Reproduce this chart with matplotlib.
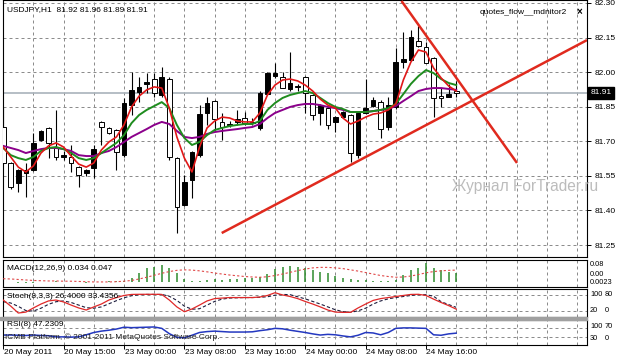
import numpy as np
import matplotlib.pyplot as plt
from matplotlib.patches import Rectangle
from matplotlib.transforms import blended_transform_factory

plt.rcParams['font.family'] = ['Liberation Sans', 'DejaVu Sans']

W, H = 623, 362
X0, STEP = 3.2, 7.55          # pixel x of bar 0, pixels per bar
PLOT_R = 587                  # right edge of the panels (px)

# ---------------- data ----------------
opens = [81.762, 81.606, 81.519, 81.562, 81.575, 81.706, 81.758, 81.671, 81.632, 81.632,
         81.588, 81.562, 81.584, 81.784, 81.758, 81.749, 81.640, 81.857, 81.914, 81.949,
         81.970, 81.901, 81.970, 81.627, 81.424, 81.532, 81.640, 81.823, 81.875, 81.784,
         81.770, 81.784, 81.801, 81.780, 81.758, 81.905, 81.983, 81.979, 81.927, 81.940,
         81.979, 81.901, 81.823, 81.844, 81.784, 81.805, 81.814, 81.640, 81.823, 81.853,
         81.870, 81.762, 81.849, 82.044, 82.053, 82.135, 82.109, 82.061, 81.896, 81.892,
         81.920]
highs = [81.849, 81.610, 81.580, 81.606, 81.736, 81.750, 81.762, 81.836, 81.660, 81.684,
         81.592, 81.580, 81.684, 81.790, 81.762, 81.753, 81.888, 82.001, 81.979, 81.996,
         81.996, 82.022, 81.980, 81.632, 81.554, 81.660, 81.857, 81.892, 81.880, 81.823,
         81.790, 81.836, 81.827, 81.800, 81.920, 82.000, 82.040, 82.001, 82.087, 81.950,
         81.983, 81.905, 81.860, 81.850, 81.810, 81.830, 81.820, 81.830, 81.970, 81.890,
         81.880, 81.892, 82.105, 82.175, 82.183, 82.200, 82.131, 82.065, 81.931, 81.950,
         81.960]
lows = [81.600, 81.495, 81.480, 81.458, 81.570, 81.700, 81.627, 81.619, 81.620, 81.567,
        81.502, 81.550, 81.541, 81.684, 81.730, 81.575, 81.630, 81.814, 81.870, 81.910,
        81.892, 81.890, 81.619, 81.302, 81.418, 81.454, 81.630, 81.771, 81.749, 81.706,
        81.760, 81.771, 81.770, 81.770, 81.749, 81.900, 81.975, 81.930, 81.920, 81.920,
        81.823, 81.792, 81.771, 81.753, 81.740, 81.800, 81.610, 81.627, 81.820, 81.850,
        81.714, 81.750, 81.840, 82.018, 82.050, 82.110, 82.040, 81.805, 81.849, 81.890,
        81.890]
closes = [81.606, 81.502, 81.575, 81.575, 81.693, 81.745, 81.693, 81.632, 81.640, 81.606,
          81.554, 81.575, 81.666, 81.762, 81.736, 81.653, 81.866, 81.923, 81.936, 81.957,
          81.910, 81.979, 81.632, 81.415, 81.523, 81.653, 81.818, 81.866, 81.797, 81.762,
          81.775, 81.797, 81.779, 81.785, 81.910, 81.996, 81.996, 81.931, 81.953, 81.935,
          81.910, 81.814, 81.857, 81.771, 81.805, 81.827, 81.649, 81.823, 81.844, 81.879,
          81.753, 81.857, 82.044, 82.057, 82.152, 82.113, 82.040, 81.888, 81.888, 81.905,
          81.910]

ma_red = [81.675, 81.632, 81.588, 81.567, 81.593, 81.649, 81.680, 81.693, 81.675, 81.636,
          81.601, 81.588, 81.606, 81.662, 81.697, 81.719, 81.771, 81.849, 81.896, 81.923,
          81.936, 81.931, 81.844, 81.719, 81.627, 81.567, 81.675, 81.758, 81.788, 81.805,
          81.801, 81.788, 81.784, 81.784, 81.823, 81.901, 81.944, 81.966, 81.970, 81.962,
          81.944, 81.918, 81.883, 81.857, 81.844, 81.801, 81.775, 81.788, 81.805, 81.818,
          81.823, 81.836, 81.862, 81.966, 82.044, 82.096, 82.087, 82.018, 81.975, 81.940,
          81.918]
ma_green = [81.671, 81.640, 81.627, 81.619, 81.632, 81.658, 81.671, 81.675, 81.666, 81.649,
            81.627, 81.619, 81.627, 81.649, 81.671, 81.693, 81.727, 81.779, 81.814, 81.836,
            81.853, 81.870, 81.844, 81.771, 81.714, 81.684, 81.697, 81.727, 81.749, 81.758,
            81.766, 81.771, 81.775, 81.775, 81.788, 81.836, 81.866, 81.888, 81.901, 81.909,
            81.918, 81.909, 81.888, 81.866, 81.849, 81.840, 81.827, 81.827, 81.827, 81.831,
            81.836, 81.844, 81.862, 81.905, 81.949, 81.983, 82.009, 81.996, 81.970, 81.953,
            81.944]
ma_purple = [81.680, 81.671, 81.662, 81.649, 81.658, 81.666, 81.671, 81.671, 81.666, 81.658,
             81.640, 81.636, 81.636, 81.649, 81.658, 81.675, 81.697, 81.719, 81.736, 81.753,
             81.771, 81.784, 81.775, 81.745, 81.719, 81.714, 81.719, 81.732, 81.740, 81.745,
             81.749, 81.753, 81.758, 81.762, 81.775, 81.801, 81.823, 81.836, 81.849, 81.857,
             81.862, 81.862, 81.857, 81.849, 81.844, 81.836, 81.827, 81.827, 81.827, 81.831,
             81.836, 81.840, 81.853, 81.875, 81.896, 81.918, 81.927, 81.931, 81.931, 81.927,
             81.923]

# trend lines: (bar index, price) end points
trend_up = ([28.94, 77.32], [81.302, 82.139])
trend_down = ([52.75, 68.05], [82.309, 81.606])

macd_hist = [0.002, -0.002, -0.004, -0.005, -0.004, -0.002, 0.000, 0.001, 0.000, -0.002,
             -0.003, -0.004, -0.003, -0.001, 0.002, 0.003, 0.004, 0.014, 0.034, 0.054,
             0.061, 0.068, 0.054, 0.034, 0.012, 0.002, 0.003, 0.006, 0.010, 0.008,
             0.010, 0.012, 0.014, 0.016, 0.020, 0.030, 0.050, 0.060, 0.064, 0.058,
             0.054, 0.047, 0.040, 0.034, 0.022, 0.014, 0.010, 0.008, 0.005, 0.004,
             0.003, 0.004, 0.007, 0.027, 0.047, 0.054, 0.075, 0.054, 0.047, 0.040,
             0.034]
macd_signal = [0.012, 0.011, 0.009, 0.007, 0.005, 0.004, 0.003, 0.003, 0.002, 0.002,
               0.001, 0.000, -0.001, -0.001, -0.001, 0.000, 0.002, 0.005, 0.011, 0.018,
               0.026, 0.034, 0.041, 0.046, 0.048, 0.047, 0.044, 0.040, 0.035, 0.031,
               0.027, 0.024, 0.021, 0.019, 0.018, 0.020, 0.025, 0.031, 0.038, 0.045,
               0.051, 0.056, 0.058, 0.058, 0.056, 0.053, 0.048, 0.043, 0.037, 0.031,
               0.025, 0.021, 0.018, 0.019, 0.023, 0.029, 0.036, 0.041, 0.044, 0.046,
               0.047]

stoch_k = [61.5, 38, 11.5, 15, 31, 46, 58, 61.5, 54, 42,
           31, 23, 35, 46, 61.5, 71, 79, 83, 83.5, 83.5,
           83.5, 83, 61.5, 35, 16.5, 27, 42, 58, 67, 69,
           71, 71, 71, 71, 73, 79, 89.6, 81, 75, 67,
           56, 46, 35, 23, 15, 14, 14, 31, 46, 60,
           67, 71, 75, 79, 83, 83.5, 79, 65, 52, 40,
           26.4]
stoch_d = [55, 50, 37, 21, 19, 30, 45, 55, 58, 52,
           42, 32, 30, 35, 47, 59, 70, 78, 82, 83,
           83, 83, 76, 60, 38, 26, 28, 42, 56, 65,
           69, 70, 71, 71, 72, 74, 80, 83, 82, 74,
           66, 56, 46, 35, 24, 17, 14, 20, 30, 46,
           58, 66, 71, 75, 79, 82, 82, 76, 55, 44,
           33.4]

rsi = [39, 39, 38, 37, 39, 37, 36, 31, 31, 30,
       31, 40, 50, 56, 60, 65, 73, 71, 72, 73,
       74, 68, 45, 29, 27, 38, 50, 54, 56, 54,
       52, 52, 52, 53, 58, 62, 68, 66, 60, 55,
       50, 44, 39, 42, 40, 35, 31, 38, 50, 48,
       40, 50, 68, 70, 70, 69, 68, 40, 38, 44,
       47.2]

price_levels = [82.30, 82.15, 82.00, 81.85, 81.70, 81.55, 81.40, 81.25]
time_idx = [0, 8, 16, 24, 32, 40, 48, 56]
time_labels = ["20 May 2011", "20 May 15:00", "23 May 00:00", "23 May 08:00",
               "23 May 16:00", "24 May 00:00", "24 May 08:00", "24 May 16:00"]
last_price = 81.91

# ---------------- helpers ----------------
def rect(x0, y0, x1, y1):
    return [x0 / W, 1 - y1 / H, (x1 - x0) / W, (y1 - y0) / H]

def ftext(x, y, s, **kw):
    kw.setdefault('fontsize', 6)
    kw.setdefault('va', 'center')
    fig.text(x / W, 1 - y / H, s, **kw)

GRID = dict(color='#8c8c8c', lw=0.72, linestyle=(0, (3, 3)), zorder=0)
XLIM = ((3 - X0) / STEP, (PLOT_R - X0) / STEP)
n = len(closes)
idx = np.arange(n)

def base_axes(box, ylim):
    ax = fig.add_axes(rect(*box))
    ax.set_xlim(*XLIM)
    ax.set_ylim(*ylim)
    for s in ax.spines.values():
        s.set_linewidth(0.8)
    ax.set_xticks([])
    ax.set_yticks([])
    for g in range(4, 80, 4):
        ax.axvline(g, **GRID)
    return ax

fig = plt.figure(figsize=(W / 100, H / 100), dpi=100)
fig.patch.set_facecolor('white')

# ---------------- main price panel ----------------
ax = base_axes((3, 0, PLOT_R, 257), (81.198, 82.313))
for lv in price_levels:
    ax.axhline(lv, **GRID)
ax.axhline(last_price, color='#a9b3bb', lw=1.2, zorder=1)

o = np.array(opens); c = np.array(closes)
ax.vlines(idx, lows, highs, color='black', lw=0.8, zorder=2)
bull = c >= o
ax.bar(idx, np.maximum(np.abs(c - o), 0.002), bottom=np.minimum(o, c), width=0.62,
       color=np.where(bull, 'black', 'white'), edgecolor='black', linewidth=0.7, zorder=3)

ax.plot(idx, ma_purple, color='#8b008b', lw=1.4, zorder=4)
ax.plot(idx, ma_green, color='#1e8c1e', lw=1.4, zorder=4)
ax.plot(idx, ma_red, color='#e01818', lw=1.2, zorder=4)
ax.plot(*trend_up, color='#e02a1e', lw=1.8, zorder=5, solid_capstyle='butt')
ax.plot(*trend_down, color='#e02a1e', lw=1.8, zorder=5, solid_capstyle='butt')

ax.yaxis.tick_right()
ax.set_yticks(price_levels)
ax.set_yticklabels([f"{v:.2f}" for v in price_levels])
ax.tick_params(axis='y', length=3, width=0.7, pad=2.5, labelsize=6)

tr = blended_transform_factory(ax.transAxes, ax.transData)
ax.text(1.006, last_price, "81.91", transform=tr, ha='left', va='center', fontsize=6,
        color='white', bbox=dict(facecolor='black', edgecolor='black', pad=1.8), zorder=6)

ftext(7, 10, "USDJPY,H1  81.92 81.96 81.89 81.91")
ftext(480, 12, "quotes_flow__mdnitor2")
ftext(577, 12, "×", fontweight='bold', fontsize=7)
ftext(452, 186, "Журнал ForTrader.ru", fontsize=11.2, color='#bcbcbc')

# ---------------- MACD ----------------
axm = base_axes((3, 260, PLOT_R, 287), (-0.0215, 0.0879))
axm.vlines(idx, 0, macd_hist, color='#2e8b2e', lw=1.1, zorder=2)
axm.plot(idx, macd_signal, color='#e04848', lw=0.8, linestyle=(0, (2, 2)), zorder=3)
ftext(7, 268, "MACD(12,26,9) 0.034 0.047")
ftext(590, 265, "0.08", fontsize=5.3)
ftext(590, 274, "0.00", fontsize=5.3)
ftext(590, 283, "0.0023", fontsize=5.3)

# ---------------- Stochastic ----------------
axs = base_axes((3, 288.5, PLOT_R, 317), (-3.8, 105.8))
for lv in (80, 20):
    axs.axhline(lv, **GRID)
axs.plot(idx, stoch_d, color='#1c1c3c', lw=0.8, linestyle=(0, (3, 2)), zorder=2)
axs.plot(idx, stoch_k, color='#e02828', lw=0.9, zorder=3)
ftext(7, 297, "Stoch(8,3,3) 26.4000 33.4356")
ftext(590, 294, "100", fontsize=5.3)
ftext(605, 294, "80", fontsize=5.3)
ftext(590, 311, "20", fontsize=5.3)
ftext(605, 311, "0", fontsize=5.3)

fig.patches.append(Rectangle((0, 1 - 320 / H), PLOT_R / W, 3 / H,
                             transform=fig.transFigure, color='#a0a0a0'))

# ---------------- RSI ----------------
axr = base_axes((3, 320, PLOT_R, 345), (-4.3, 104.3))
for lv in (70, 30):
    axr.axhline(lv, **GRID)
axr.plot(idx, rsi, color='#2438c0', lw=1.1, zorder=2)
ftext(7, 325, "RSI(8) 47.2309")
ftext(5, 337, "ICMB Platform, © 2001-2011 MetaQuotes Software Corp.", color='#202020')
ftext(590, 326, "100", fontsize=5.3)
ftext(605, 326, "70", fontsize=5.3)
ftext(590, 338, "30", fontsize=5.3)
ftext(605, 338, "0", fontsize=5.3)

axr.set_xticks(time_idx)
axr.set_xticklabels([''] * len(time_idx))
axr.tick_params(axis='x', length=3, width=0.7, direction='out')
for i, lab in zip(time_idx, time_labels):
    ftext(X0 + STEP * i + 0.5, 353, lab, ha='left')

fig.savefig("out.png", dpi=100, facecolor='white')
